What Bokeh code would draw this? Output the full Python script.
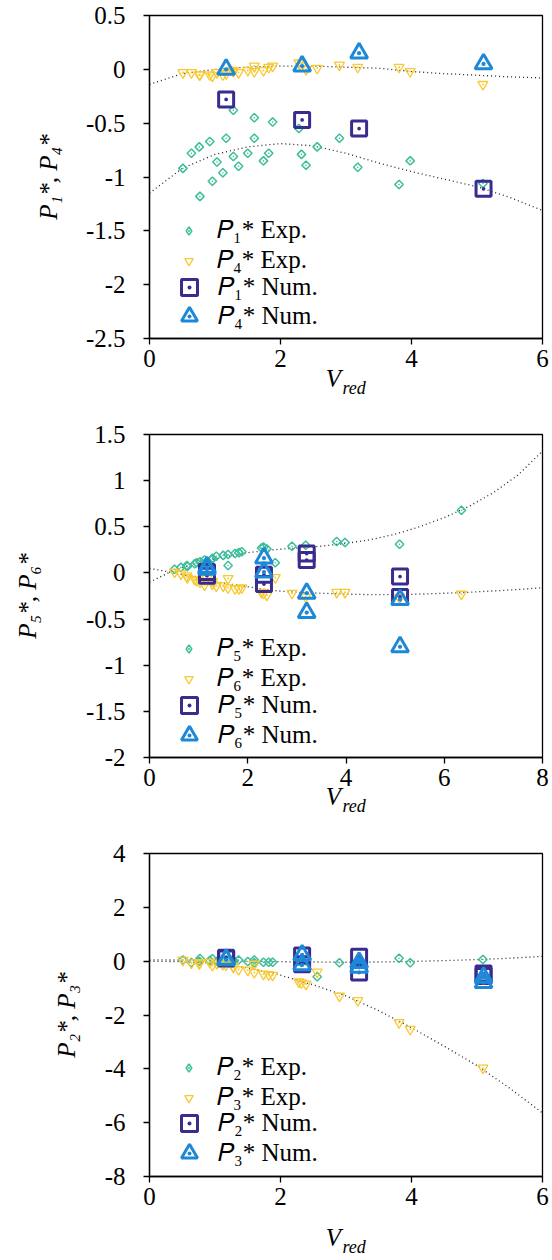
from bokeh.plotting import figure
from bokeh.layouts import column
from bokeh.models import Range1d, FixedTicker, Legend, LegendItem, Title
from bokeh.embed import file_html
from bokeh.resources import INLINE

# ---------------- data ----------------
# experimental reduced velocities (panels 1 and 3, x in 0..6)
vred_exp = [0.51, 0.64, 0.76, 0.77, 0.92, 0.96, 1.03, 1.12, 1.17, 1.28, 1.28, 1.36, 1.50, 1.60,
            1.60, 1.74, 1.82, 1.88, 2.28, 2.32, 2.39, 2.56, 2.90, 3.18, 3.81, 3.98, 5.09]
# panel 2 also shows the point at 6.35
vred_exp2 = vred_exp + [6.35]

p1_exp = [-0.92, -0.78, -0.72, -1.18, -0.67, -1.04, -0.86, -0.96, -0.64, -0.38, -0.81, -0.90, -0.78, -0.45,
          -0.64, -0.85, -0.78, -0.49, -0.55, -0.79, -0.89, -0.72, -0.64, -0.91, -1.07, -0.85, -1.06]
p4_exp = [-0.03, -0.03, -0.05, -0.05, -0.05, -0.06, -0.03, -0.05, -0.04, -0.01, -0.02, -0.03, -0.01, 0.03,
          -0.02, -0.01, 0.02, 0.03, 0.06, 0.03, 0.00, 0.01, 0.04, 0.02, 0.02, -0.02, -0.14]
p5_exp = [0.04, 0.06, 0.08, 0.07, 0.10, 0.11, 0.12, 0.14, 0.13, 0.16, 0.15, 0.18, 0.19, 0.20,
          0.08, 0.21, 0.22, 0.23, 0.27, 0.28, 0.26, 0.11, 0.29, 0.30, 0.34, 0.33, 0.31, 0.68]
p6_exp = [0.01, -0.01, -0.03, -0.05, -0.07, -0.08, -0.10, -0.13, -0.06, -0.12, -0.09, -0.14, -0.14, -0.06,
          -0.16, -0.17, -0.17, -0.16, -0.21, -0.22, -0.24, -0.05, -0.22, -0.26, -0.21, -0.21, -0.27, -0.23]
p2_exp = [0.04, -0.05, 0.00, 0.10, 0.02, 0.09, 0.00, -0.02, 0.05, 0.03, -0.03, 0.04, -0.01, 0.04,
          -0.06, -0.04, -0.04, -0.04, 0.00, -0.05, 0.02, -0.58, -0.06, -0.10, 0.11, -0.06, 0.06]
p3_exp = [0.04, -0.06, -0.09, -0.05, -0.04, -0.15, -0.08, -0.12, -0.14, -0.19, -0.22, -0.31, -0.33, -0.11,
          -0.42, -0.48, -0.50, -0.52, -0.77, -0.80, -0.85, -0.40, -1.30, -1.46, -2.28, -2.53, -3.97]

# numerical results
vred_num1 = [1.17, 2.33, 3.20, 5.10]
p1_num = [-0.28, -0.47, -0.55, -1.11]
p4_num = [0.00, 0.03, 0.15, 0.05]
vred_num = [1.17, 1.17, 2.33, 2.33, 3.20, 3.20, 5.10, 5.10]
p5_num = [0.01, -0.03, -0.02, -0.12, 0.21, 0.14, -0.04, -0.26]
p6_num = [0.06, 0.04, 0.16, 0.01, -0.22, -0.43, -0.29, -0.80]
p2_num = [0.13, 0.10, 0.21, -0.11, 0.16, -0.42, -0.46, -0.55]
p3_num = [0.07, 0.05, 0.23, -0.14, -0.05, -0.23, -0.60, -0.80]

# fitted trend curves
vfit6 = [0, 0.5, 1, 1.5, 2, 2.5, 3, 3.5, 4, 4.5, 5, 5.5, 6]
vfit8 = [0, 0.5, 1, 1.5, 2, 2.5, 3, 3.5, 4, 4.5, 5, 5.5, 6, 6.5, 7, 7.5, 8]
p1_fit = [-1.15, -0.92, -0.79, -0.72, -0.69, -0.71, -0.78, -0.87, -0.95, -1.02, -1.09, -1.19, -1.31]
p4_fit = [-0.14, -0.04, 0.00, 0.02, 0.03, 0.03, 0.02, 0.01, -0.02, -0.04, -0.055, -0.07, -0.08]
p5_fit = [-0.10, 0.03, 0.11, 0.17, 0.22, 0.25, 0.27, 0.29, 0.32, 0.36, 0.42, 0.50, 0.60, 0.72, 0.87, 1.06, 1.32]
p6_fit = [0.05, 0.00, -0.06, -0.11, -0.15, -0.19, -0.21, -0.22, -0.23, -0.235, -0.235, -0.23, -0.22, -0.21,
          -0.195, -0.18, -0.16]
p2_fit = [0.05, 0.04, 0.02, 0.00, -0.02, -0.03, -0.04, -0.03, -0.01, 0.02, 0.06, 0.11, 0.18]
p3_fit = [0.00, -0.02, -0.08, -0.25, -0.52, -0.88, -1.29, -1.84, -2.47, -3.16, -3.88, -4.72, -5.64]

# ticks
x_ticks6 = [0, 2, 4, 6]
x_labels6 = ["0", "2", "4", "6"]
x_ticks8 = [0, 2, 4, 6, 8]
x_labels8 = ["0", "2", "4", "6", "8"]
y1_ticks = [0.5, 0, -0.5, -1, -1.5, -2, -2.5]
y1_labels = ["0.5", "0", "-0.5", "-1", "-1.5", "-2", "-2.5"]
y2_ticks = [1.5, 1, 0.5, 0, -0.5, -1, -1.5, -2]
y2_labels = ["1.5", "1", "0.5", "0", "-0.5", "-1", "-1.5", "-2"]
y3_ticks = [4, 2, 0, -2, -4, -6, -8]
y3_labels = ["4", "2", "0", "-2", "-4", "-6", "-8"]

# ---------------- style ----------------
FONT = "Liberation Serif"
GREEN = "#3DBE9B"
YELLOW = "#F8C932"
PURPLE = "#3A2C8E"
BLUE = "#1E88D8"
NAN = float("nan")
FRAME_W = 393
FRAME_H = 323


def panel(height, top_border, xmax, xt, xl, yr, yt, yl, ylabel, ystand, xstand):
    bottom_border = height - top_border - FRAME_H
    p = figure(width=550, height=height, output_backend="svg", toolbar_location=None,
               x_range=Range1d(0, xmax), y_range=Range1d(*yr),
               min_border_left=149, min_border_right=550 - 149 - FRAME_W, min_border_top=top_border,
               min_border_bottom=bottom_border)
    p.xgrid.visible = False
    p.ygrid.visible = False
    p.outline_line_color = "black"
    p.outline_line_width = 1.3
    p.outline_line_alpha = 1
    p.background_fill_color = "white"
    p.border_fill_color = "white"
    for ax, ticks, labels in ((p.xaxis[0], xt, xl), (p.yaxis[0], yt, yl)):
        ax.ticker = FixedTicker(ticks=ticks)
        ax.major_label_overrides = dict(zip(ticks, labels))
        ax.minor_tick_line_color = None
        ax.major_tick_in = 0
        ax.major_tick_out = 6
        ax.axis_line_width = 1.3
        ax.major_tick_line_width = 1.3
        ax.axis_line_color = "black"
        ax.major_tick_line_color = "black"
        ax.major_label_text_font = FONT
        ax.major_label_text_font_size = "25px"
        ax.major_label_text_color = "black"
        ax.axis_label_text_font = FONT
        ax.axis_label_text_font_style = "italic"
        ax.axis_label_text_font_size = "25px"
        ax.axis_label_text_color = "black"
    p.xaxis.major_label_standoff = 5
    p.yaxis.major_label_standoff = 18
    p.yaxis.axis_label = ylabel
    p.yaxis.axis_label_standoff = ystand
    # x axis title V_red: italic V (the em space shifts it left of centre) + subscript "red"
    p.xaxis.axis_label = "V\u2003"
    p.xaxis.axis_label_standoff = xstand
    p.add_layout(Title(text="red", align="left", offset=193, standoff=-34, vertical_align="top",
                       text_font=FONT, text_font_style="italic", text_font_size="18px",
                       text_color="black"), "below")
    return p


def draw(p, vfit, fit_a, fit_b, vexp, exp_a, exp_b, vnum_a, num_a, vnum_b, num_b, names, leg_y):
    p.line(vfit, fit_a, line_color="#222222", line_width=1.3, line_dash="1 3")
    p.line(vfit, fit_b, line_color="#222222", line_width=1.3, line_dash="1 3")
    p.scatter(vexp, exp_a, marker="square_dot", size=6, angle=0.785398, line_color=GREEN,
              line_width=1.5, fill_alpha=0)
    leg_a = p.scatter([NAN], [NAN], marker="diamond_dot", size=6, line_color=GREEN,
                      line_width=1.5, fill_alpha=0)
    r_b = p.scatter(vexp, exp_b, marker="inverted_triangle", size=10, line_color=YELLOW,
                    line_width=1.3, fill_alpha=0)
    p.scatter(vexp, exp_b, marker="circle", size=2, line_color=None, fill_color=YELLOW)
    r_c = p.scatter(vnum_a, num_a, marker="square_dot", size=15, line_color=PURPLE,
                    line_width=3, fill_alpha=0)
    r_d = p.scatter(vnum_b, num_b, marker="triangle_dot", size=17, line_color=BLUE,
                    line_width=3, fill_alpha=0)
    common = dict(padding=0, margin=0, border_line_color=None, background_fill_alpha=0,
                  label_text_font=FONT, label_text_font_size="25px",
                  label_text_color="black", spacing=0)
    specs = [(leg_a, names[0], 29, 21, 18, 29),
             (r_b, names[1], 29, 21, 18, 29),
             (r_c, names[2], 20, 40, 9, 40),
             (r_d, names[3], 20, 40, 9, 40)]
    for (r, name, lx, g, standoff, lh), ly in zip(specs, leg_y):
        p.add_layout(Legend(items=[LegendItem(label=name, renderers=[r])], location=(lx, ly),
                            glyph_width=g, glyph_height=g, label_standoff=standoff,
                            label_height=lh, **common))


p1 = panel(412, 15, 6, x_ticks6, x_labels6, (-2.5, 0.5), y1_ticks, y1_labels, "P₁*, P₄*", 21, -5)
draw(p1, vfit6, p1_fit, p4_fit, vred_exp, p1_exp, p4_exp, vred_num1, p1_num, vred_num1, p4_num,
     ["𝑃₁* Exp.", "𝑃₄* Exp.", "𝑃₁* Num.", "𝑃₄* Num."], [93, 63, 31, 2])

p2 = panel(420, 22, 8, x_ticks8, x_labels8, (-2, 1.5), y2_ticks, y2_labels, "P₅*, P₆*", 42, -6)
draw(p2, vfit8, p5_fit, p6_fit, vred_exp2, p5_exp, p6_exp, vred_num, p5_num, vred_num, p6_num,
     ["𝑃₅* Exp.", "𝑃₆* Exp.", "𝑃₅* Num.", "𝑃₆* Num."], [94, 64, 32, 2])

p3 = panel(428, 21, 6, x_ticks6, x_labels6, (-8, 4), y3_ticks, y3_labels, "P₂*, P₃*", 22, 16)
draw(p3, vfit6, p2_fit, p3_fit, vred_exp, p2_exp, p3_exp, vred_num, p2_num, vred_num, p3_num,
     ["𝑃₂* Exp.", "𝑃₃* Exp.", "𝑃₂* Num.", "𝑃₃* Num."], [94, 64, 33, 3])

layout = column(p1, p2, p3, spacing=0)
open("out.html", "w").write(file_html(layout, INLINE))
